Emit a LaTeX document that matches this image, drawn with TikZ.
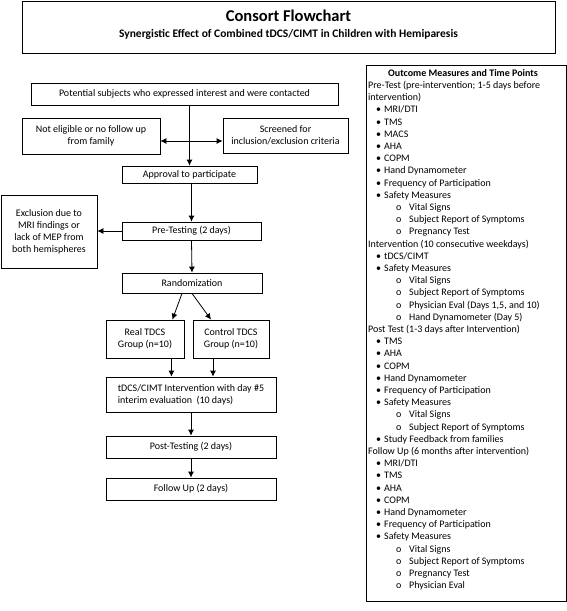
\documentclass[tikz,border=0pt]{standalone}
\usepackage{fontspec}
\setmainfont{Carlito}
\usepackage{tikz}
\usetikzlibrary{calc,arrows.meta}

\newcommand{\itemA}[1]{\hspace*{8pt}\makebox[8pt][l]{\textbullet}#1}
\newcommand{\itemB}[1]{\hspace*{28pt}\makebox[13pt][l]{o}#1}

\tikzset{
  box/.style={draw, line width=0.8pt, inner sep=0pt, align=center,
    font=\fontsize{10}{12}\selectfont},
  flow/.style={-{Latex[length=6pt,width=6pt]}, line width=0.8pt}
}

\begin{document}
\begin{tikzpicture}[x=1pt, y=-1pt]
\useasboundingbox (0,0) rectangle (567,611);

\node[box, minimum width=533, minimum height=52] (title) at (288.5,27) {};
\node[font=\fontsize{16.5}{18}\selectfont\bfseries] (titletop) at (288.5,16) {Consort Flowchart};
\node[font=\fontsize{11.5}{13}\selectfont\bfseries] (titlesub) at (288.5,34) {Synergistic Effect of Combined tDCS/CIMT in Children with Hemiparesis};

\node[box, minimum width=307, minimum height=22] (potential) at (184.5,94) {Potential subjects who expressed interest and were contacted};
\node[box, minimum width=138, minimum height=36] (noteligible) at (91,136) {Not eligible or no follow up\\from family};
\node[box, minimum width=125, minimum height=35] (screened) at (285.5,135.5) {Screened for\\inclusion/exclusion criteria};
\node[box, minimum width=135, minimum height=17] (approval) at (189.5,174.5) {Approval to participate};
\node[box, minimum width=96, minimum height=73] (exclusion) at (49,231.5) {Exclusion due to\\MRI findings or\\lack of MEP from\\both hemispheres};
\node[box, minimum width=139, minimum height=18] (pretest) at (191.5,231) {Pre-Testing (2 days)};
\node[box, minimum width=140, minimum height=20] (random) at (192,283) {Randomization};
\node[box, minimum width=78, minimum height=38] (real) at (145,339) {Real TDCS\\Group (n=10)};
\node[box, minimum width=76, minimum height=38] (control) at (231,339) {Control TDCS\\Group (n=10)};
\node[box, minimum width=170, minimum height=35, align=left] (intervention) at (191,394.5) {tDCS/CIMT Intervention with day \#5\\interim evaluation\ \ (10 days)};
\node[box, minimum width=170, minimum height=22] (post) at (191,447) {Post-Testing (2 days)};
\node[box, minimum width=170, minimum height=22] (follow) at (191,489) {Follow Up (2 days)};

\coordinate (split) at (189.5,141);
\coordinate (realout) at ([xshift=-13]real.south east);
\coordinate (controlout) at ([xshift=-18]control.south);
\draw[flow] (approval |- potential.south) -- (approval.north);
\draw[flow] (split) -- (split -| noteligible.east);
\draw[flow] (split) -- (split -| screened.west);
\draw[flow] (approval.south -| pretest) -- (pretest.north);
\draw[flow] (pretest.west) -- (pretest.west -| exclusion.east);
\draw[flow] (pretest.south) -- (random.north);
\draw[flow] ([xshift=-10]random.south) -- ([xshift=-12]real.north east);
\draw[flow] (random.south) -- ([xshift=-20]control.north);
\draw[flow] (realout) -- (realout |- intervention.north);
\draw[flow] (controlout) -- (controlout |- intervention.north);
\draw[flow] (intervention.south) -- (post.north);
\draw[flow] (post.south) -- (follow.north);

\node[box, minimum width=200, minimum height=536] (panel) at (466,333) {};
\node[anchor=north west, inner sep=0pt, align=left,
  font=\fontsize{10}{12.2}\selectfont] (measures) at (368,69) {%
\hspace*{20pt}\textbf{Outcome Measures and Time Points}\\
Pre-Test (pre-intervention; 1-5 days before\\
intervention)\\
\itemA{MRI/DTI}\\
\itemA{TMS}\\
\itemA{MACS}\\
\itemA{AHA}\\
\itemA{COPM}\\
\itemA{Hand Dynamometer}\\
\itemA{Frequency of Participation}\\
\itemA{Safety Measures}\\
\itemB{Vital Signs}\\
\itemB{Subject Report of Symptoms}\\
\itemB{Pregnancy Test}\\
Intervention (10 consecutive weekdays)\\
\itemA{tDCS/CIMT}\\
\itemA{Safety Measures}\\
\itemB{Vital Signs}\\
\itemB{Subject Report of Symptoms}\\
\itemB{Physician Eval (Days 1,5, and 10)}\\
\itemB{Hand Dynamometer (Day 5)}\\
Post Test (1-3 days after Intervention)\\
\itemA{TMS}\\
\itemA{AHA}\\
\itemA{COPM}\\
\itemA{Hand Dynamometer}\\
\itemA{Frequency of Participation}\\
\itemA{Safety Measures}\\
\itemB{Vital Signs}\\
\itemB{Subject Report of Symptoms}\\
\itemA{Study Feedback from families}\\
Follow Up (6 months after intervention)\\
\itemA{MRI/DTI}\\
\itemA{TMS}\\
\itemA{AHA}\\
\itemA{COPM}\\
\itemA{Hand Dynamometer}\\
\itemA{Frequency of Participation}\\
\itemA{Safety Measures}\\
\itemB{Vital Signs}\\
\itemB{Subject Report of Symptoms}\\
\itemB{Pregnancy Test}\\
\itemB{Physician Eval}};

\end{tikzpicture}
\end{document}
